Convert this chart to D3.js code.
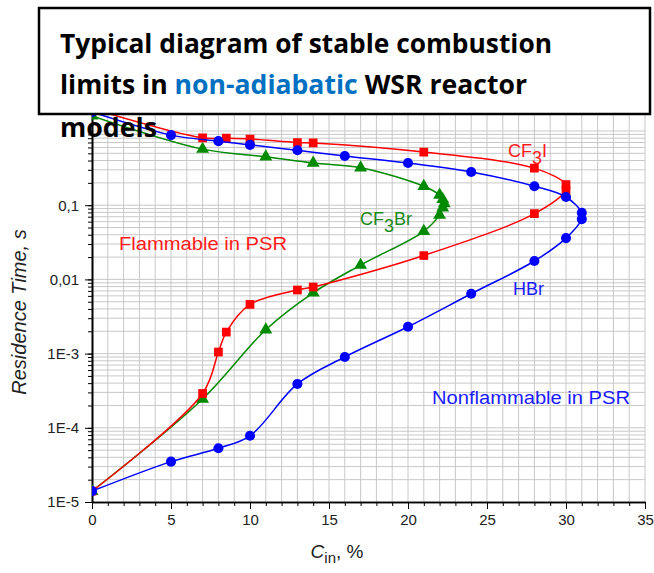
<!DOCTYPE html>
<html>
<head>
<meta charset="utf-8">
<script src="https://cdnjs.cloudflare.com/ajax/libs/d3/7.8.5/d3.min.js"></script>
<style>
  body { margin: 0; background: #fff; }
  svg { display: block; font-family: 'Liberation Sans', Arial, sans-serif; }
  .grid line { stroke: #c8c8c8; stroke-width: 1; }
  .axis path, .axis line { stroke: #000; }
  .axis text { fill: #222; font-size: 15px; }
  .curve { fill: none; stroke-width: 1.5; }
</style>
</head>
<body>
<svg width="654" height="573"></svg>
<script>
// CF3I - red squares (lower branch -> nose -> upper branch)
const cf3iX = [0, 7, 8, 8.5, 10, 13, 14, 21, 28, 30, 30, 28, 21, 14, 13, 10, 8.5, 7, 0]
const cf3iY = [1.4e-5, 2.9e-4, 1.05e-3, 1.95e-3, 4.6e-3, 7.2e-3, 7.9e-3, 0.021, 0.077, 0.16, 0.19, 0.316, 0.52, 0.69, 0.7, 0.78, 0.8, 0.81, 2.0]

// CF3Br - green triangles
const cf3brX = [0, 7, 11, 14, 17, 21, 22, 22.2, 22.3, 22.2, 22, 21, 17, 14, 11, 7, 0]
const cf3brY = [1.4e-5, 2.45e-4, 2.1e-3, 6.6e-3, 0.0156, 0.0445, 0.074, 0.092, 0.105, 0.12, 0.137, 0.18, 0.32, 0.37, 0.45, 0.57, 1.6]

// HBr - blue circles
const hbrX = [0, 5, 8, 10, 13, 16, 20, 24, 28, 30, 31, 31, 30, 28, 24, 20, 16, 13, 10, 8, 5, 0]
const hbrY = [1.4e-5, 3.5e-5, 5.3e-5, 7.8e-5, 3.9e-4, 9e-4, 2.3e-3, 6.4e-3, 0.0177, 0.036, 0.065, 0.079, 0.129, 0.18, 0.28, 0.37, 0.46, 0.55, 0.65, 0.73, 0.88, 1.8]

const xMajorTicks = [0, 5, 10, 15, 20, 25, 30, 35]
const yMajorTicks = [1e-5, 1e-4, 1e-3, 0.01, 0.1]
const yTickLabels = ['1E-5', '1E-4', '1E-3', '0,01', '0,1']

const titleLines = ['Typical diagram of stable combustion', 'limits in ', 'non-adiabatic', ' WSR reactor', 'models']

;(function() {

  const left = 92, right = 645, bottom = 502, decade = 74.2
  const yMax = 3

  const x = d3.scaleLinear().domain([0, 35]).range([left, right])
  const y = d3.scaleLog().domain([1e-5, yMax]).range([bottom, bottom - decade * Math.log10(yMax / 1e-5)])
  const plotTop = y(yMax)

  const svg = d3.select('svg')

  svg.append('defs').append('clipPath').attr('id', 'plot')
    .append('rect')
    .attr('x', left).attr('y', plotTop)
    .attr('width', right - left).attr('height', bottom - plotTop)

  // grid
  const grid = svg.append('g').classed('grid', true)

  grid.selectAll('line.v')
    .data(d3.range(1, 36))
    .enter()
    .append('line')
    .attr('x1', d => x(d)).attr('x2', d => x(d))
    .attr('y1', plotTop).attr('y2', bottom)

  grid.selectAll('line.h')
    .data(y.ticks().filter(d => d > 1e-5))
    .enter()
    .append('line')
    .attr('x1', left).attr('x2', right)
    .attr('y1', d => y(d)).attr('y2', d => y(d))

  // axes: minor then major
  svg.append('g')
    .classed('axis', true)
    .attr('transform', `translate(0,${bottom})`)
    .call(d3.axisBottom(x).tickValues(d3.range(0, 36)).tickSize(4).tickFormat('').tickSizeOuter(0))

  svg.append('g')
    .classed('axis', true)
    .attr('transform', `translate(0,${bottom})`)
    .call(d3.axisBottom(x).tickValues(xMajorTicks).tickSize(7).tickPadding(5).tickFormat(d3.format('d')).tickSizeOuter(0))

  svg.append('g')
    .classed('axis', true)
    .attr('transform', `translate(${left},0)`)
    .call(d3.axisLeft(y).tickValues(y.ticks()).tickSize(4).tickFormat('').tickSizeOuter(0))

  svg.append('g')
    .classed('axis', true)
    .attr('transform', `translate(${left},0)`)
    .call(d3.axisLeft(y).tickValues(yMajorTicks).tickSize(7).tickPadding(6)
      .tickFormat((d, i) => yTickLabels[i]).tickSizeOuter(0))

  svg.selectAll('.axis path.domain').attr('stroke-width', 1.6)

  // series
  const series = [
    {name: 'CF3Br', xs: cf3brX, ys: cf3brY, color: '#008a00', symbol: d3.symbolTriangle, size: 72},
    {name: 'CF3I', xs: cf3iX, ys: cf3iY, color: '#ff0000', symbol: d3.symbolSquare, size: 76},
    {name: 'HBr', xs: hbrX, ys: hbrY, color: '#0000ff', symbol: d3.symbolCircle, size: 80}
  ]

  const line = d3.line()
    .x(d => x(d[0]))
    .y(d => y(d[1]))
    .curve(d3.curveCatmullRom.alpha(0.5))

  const plot = svg.append('g').attr('clip-path', 'url(#plot)')

  for (let s of series) {
    const pts = s.xs.map((v, i) => [v, s.ys[i]])
    plot.append('path')
      .datum(pts)
      .classed('curve', true)
      .attr('stroke', s.color)
      .attr('d', line)

    plot.selectAll('.m-' + s.name)
      .data(pts)
      .enter()
      .append('path')
      .attr('transform', d => `translate(${x(d[0])},${y(d[1])})`)
      .attr('d', d3.symbol().type(s.symbol).size(s.size))
      .attr('fill', s.color)
  }

  // annotations
  svg.append('text')
    .attr('x', 119).attr('y', 250)
    .attr('fill', '#ff1a1a').attr('font-size', 18)
    .attr('textLength', 168).attr('lengthAdjust', 'spacingAndGlyphs')
    .text('Flammable in PSR')

  svg.append('text')
    .attr('x', 432).attr('y', 404)
    .attr('fill', '#1a1aff').attr('font-size', 18)
    .attr('textLength', 198).attr('lengthAdjust', 'spacingAndGlyphs')
    .text('Nonflammable in PSR')

  svg.append('text')
    .attr('x', 513).attr('y', 295)
    .attr('fill', '#1a1aff').attr('font-size', 18)
    .text('HBr')

  function chemLabel (xp, yp, pre, sub, post, color) {
    const t = svg.append('text')
      .attr('x', xp).attr('y', yp)
      .attr('fill', color).attr('font-size', 18)
    t.append('tspan').text(pre)
    t.append('tspan').attr('dy', 7).attr('font-size', 18).text(sub)
    t.append('tspan').attr('dy', -7).text(post)
  }

  chemLabel(508, 157, 'CF', '3', 'I', '#ff1a1a')
  chemLabel(360, 225, 'CF', '3', 'Br', '#1a8a1a')

  // axis titles
  svg.append('text')
    .attr('transform', 'translate(26,312) rotate(-90)')
    .attr('text-anchor', 'middle')
    .attr('font-size', 20)
    .attr('font-style', 'italic')
    .attr('fill', '#222')
    .text('Residence Time, s')

  const xl = svg.append('text')
    .attr('x', 337).attr('y', 558)
    .attr('text-anchor', 'middle')
    .attr('font-size', 19)
    .attr('fill', '#222')
  xl.append('tspan').attr('font-style', 'italic').text('C')
  xl.append('tspan').attr('font-size', 15).attr('dy', 5).text('in')
  xl.append('tspan').attr('dy', -5).text(', %')

  // title box
  svg.append('rect')
    .attr('x', 39).attr('y', 8)
    .attr('width', 611).attr('height', 106)
    .attr('fill', '#fff')
    .attr('stroke', '#000')
    .attr('stroke-width', 2.5)

  const titleFont = "'Open Sans', 'Liberation Sans', sans-serif"

  svg.append('text')
    .attr('x', 60).attr('y', 53)
    .attr('font-family', titleFont).attr('font-weight', 'bold').attr('font-size', 27)
    .attr('textLength', 492).attr('lengthAdjust', 'spacingAndGlyphs')
    .text(titleLines[0])

  const t2 = svg.append('text')
    .attr('x', 60).attr('y', 94)
    .attr('font-family', titleFont).attr('font-weight', 'bold').attr('font-size', 27)
    .attr('textLength', 467).attr('lengthAdjust', 'spacingAndGlyphs')
  t2.append('tspan').text(titleLines[1])
  t2.append('tspan').attr('fill', '#0070c0').text(titleLines[2])
  t2.append('tspan').text(titleLines[3])

  svg.append('text')
    .attr('x', 60).attr('y', 137)
    .attr('font-family', titleFont).attr('font-weight', 'bold').attr('font-size', 27)
    .attr('textLength', 97).attr('lengthAdjust', 'spacingAndGlyphs')
    .text(titleLines[4])

})()
</script>
</body>
</html>
